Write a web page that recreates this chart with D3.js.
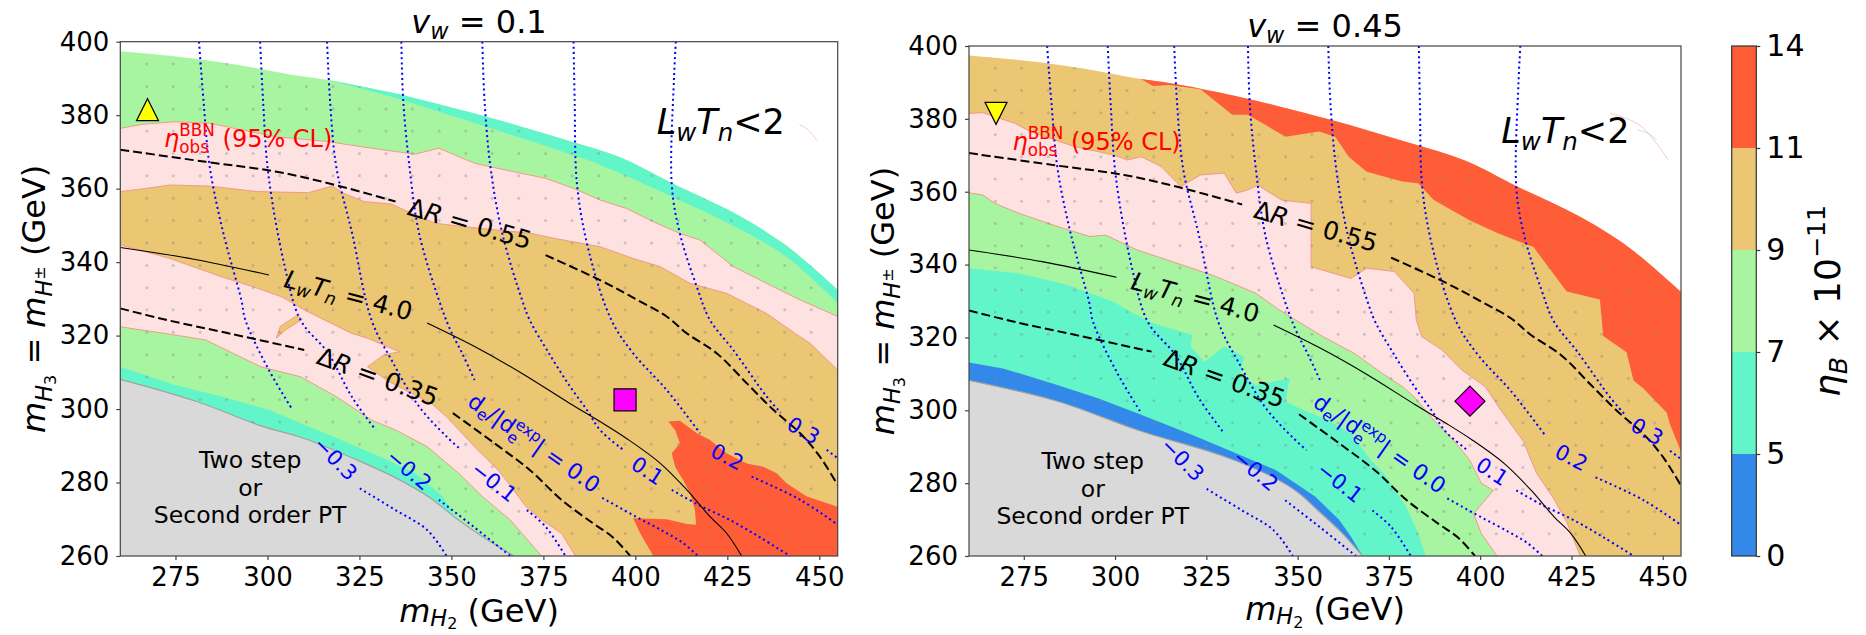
<!DOCTYPE html>
<html><head><meta charset="utf-8">
<script src="https://cdn.jsdelivr.net/npm/d3@7/dist/d3.min.js"></script>
<style>
html,body{margin:0;padding:0;background:#fff;}
svg{display:block;}
text{font-family:"DejaVu Sans",sans-serif;white-space:pre;}
</style></head>
<body>
<svg id="chart" width="1866" height="635"></svg>
<script>
// ================= DATA =================
const xDomain = [260, 455];
const yDomain = [260, 400];
const xTicks = [275, 300, 325, 350, 375, 400, 425, 450];
const yTicks = [260, 280, 300, 320, 340, 360, 380, 400];
const cbBounds = [0, 5, 7, 9, 11, 14];
const cbColors = ["#3389ea", "#62f5c9", "#a7f5a0", "#ebc673", "#ff5c38"];
const vwValues = ["0.1", "0.45"];

// scan grid points (grey dots)
const gridX = [267.2,274.4,281.7,288.9,296.1,303.3,310.6,317.8,325.0,332.2,339.4,346.7,353.9,361.1,368.3,375.6,382.8,390.0,397.2,404.4,411.7,418.9,426.1,433.3,440.6,447.8];
const gridY = [266.1,272.2,278.3,284.3,290.4,296.5,302.6,308.7,314.8,320.9,327.0,333.0,339.1,345.2,351.3,357.4,363.5,369.6,375.7,381.7,387.8,393.9];

// upper edge of the first-order PT region (above: LwTn<2)
const upperEdge = [[260,397.4],[275,396],[290,394],[306,391.1],[316.5,389.6],[333,386.3],[345,383.4],[358,380],[370,376.6],[382,373],[396,368.5],[410,361.5],[427,353.3],[441,344.5],[455,332.5]];
// lower edge (below: two step / second order PT)
const lowerEdgeL = [[260,308.1],[281,302],[298,295.5],[310,292],[324,286.3],[335,281.2],[344,276],[351,270.5],[358.4,265.3],[367,260]];
const lowerEdgeR = [[260,308.2],[284.4,302.4],[306.1,294.6],[329.9,287.3],[342.9,281.8],[350,277.5],[355.9,272.2],[362,266.5],[367.8,260]];

// ---- left panel (v_w = 0.1) band edges ----
const L_aquaStripLow = [[316.5,389.6],[333,385.2],[358,377.3],[382,369.5],[390.4,366.5],[410,357.8],[427,349.7],[441,341.5],[455,328.8]];
const L_pinkTop = [[260,376.4],[266,377.5],[274.6,378.2],[284.3,377.8],[293,376],[302.5,374.1],[316.5,372.8],[325,371.5],[334.8,370.1],[340.2,369.4],[346.6,371],[356.3,366.9],[366,364.8],[375.6,362.8],[383.1,360.1],[390.4,356.9],[397.6,354.6],[404.9,351],[412.1,347.8],[417.6,346],[426.6,338.8],[437.5,333.3],[444.8,329.7],[455,325.2]];
const L_orangeTop = [[260,359.2],[265,359.8],[273.5,361],[284.3,360.7],[297.2,359.2],[311.1,358.9],[317.6,360.7],[320.8,358.7],[326.2,356.5],[333.7,355.8],[339.1,353.3],[345.5,350.6],[352,349.8],[361.7,348.8],[371.3,347.9],[377.8,346.5],[390.4,344.2],[399.4,341],[406.7,338.8],[414.9,334.2],[424.8,331.5],[435.7,326],[440,323],[444,320.2],[447.5,317.9],[451,314.5],[455,310.6]];
const L_orangeBottom = [[260,344.7],[273.5,341],[287.5,336],[296.1,333.3],[304,330.5],[310,327],[316,324],[322.9,320.6],[327.2,319.3],[335.9,315.6],[331.6,314.7],[327.2,311.5],[333,307.5],[339.1,304.3],[344.5,301.6],[348.7,297.9],[352,294.3],[357,289],[362.7,283.4],[366.5,278.5],[370.3,273.4],[375,269.5],[379.9,266.2],[383.7,260]];
const L_orangeIsland = [[302.4,319.3],[303.5,322.5],[308,325.5],[309.5,324.5],[305,321.6]];
const L_red = [[409,296.6],[412.1,296.8],[416.7,293.4],[420.3,291.6],[424.8,288],[430.3,285.2],[434.8,284.3],[438.4,282.5],[441.1,279.8],[446.6,276.2],[455,273.4],[455,260],[404.9,260],[401.3,266.2],[399.4,270.3],[408.5,270],[414,268.7],[416.5,268.5],[416.2,272.5],[414.9,277],[413,280.7],[410.8,284.3],[409.9,288],[412.1,290.7],[410.8,294.3]];
const L_pinkBottom = [[260,322.4],[274.6,320.2],[283.2,318.8],[290,315.5],[298.2,311.5],[309,308.8],[318.7,303.4],[328.3,297],[334.8,294.3],[343.4,289.8],[352,282.5],[358.4,276.2],[366,269.8],[374.5,260]];
const L_aquaTop = [[260,311.5],[274.6,306.6],[287.5,303.4],[300.4,299.8],[310,295.7],[319.7,291.7],[330.5,287.1],[340.2,282.5],[347.7,276.2],[350.5,271.5]];

// ---- right panel (v_w = 0.45) band edges ----
const R_redBottom = [[306,391.1],[307.2,390.9],[310.4,389],[314.8,389.3],[323.4,388.1],[332.1,381.1],[336.4,381.1],[346.7,375.1],[355.9,376.5],[360.3,375.1],[364,369.6],[368.9,365.5],[378.7,362.8],[383,362.3],[387.3,357.7],[397.1,352.2],[405,348.5],[414.6,344.8],[423.7,332.6],[432.8,330.4],[433.7,320.4],[440.1,315.9],[442,308.2],[444.7,306],[451.1,299.3],[452,296.1],[455,288.7]];
const R_pinkTop = [[260,381.5],[263.8,381.7],[272.5,378.8],[276.8,376.5],[288.8,372.4],[299.6,370.1],[303.4,368.7],[307.2,369.6],[312.6,366.9],[318,361.4],[323.4,364.6],[329.9,365.1],[333.2,359.6],[336.4,360.5],[339.1,361.8],[345.6,357.7],[353.7,356.8],[353.7,339.4],[364.6,336.2],[368.9,339],[376.5,338.1],[381.9,332.1],[382.5,324.8],[384,320.2],[389.5,316.6],[394.9,311.1],[401.4,306.5],[405.4,300.4],[411.8,291.5],[415.5,282.6],[420,276],[423.7,269.3],[427.4,260]];
const R_greenTop = [[260,359.7],[263.8,359.1],[267.1,356.8],[273.6,354.1],[284.4,350.4],[293.1,347.7],[297.4,348.1],[306.1,344],[316.9,340.4],[327.7,336.7],[338.6,332.1],[345.1,327.5],[349.4,324.8],[357,320.2],[365.6,315.6],[373.2,310.1],[378.7,306.5],[381.9,303.7],[387.3,297.3],[392.7,291.8],[397.1,286.4],[400.3,280],[403.6,278],[398.2,271.6],[400.3,266.2],[404.6,260]];
const R_aquaTop = [[260,339],[273.6,337.6],[286.6,334.5],[299.6,329.8],[306.1,326],[310.4,323.9],[321.2,320.7],[320.7,317.5],[324.5,313.3],[329.9,317.5],[335.3,314.7],[334.3,309.7],[338.6,306.9],[347.8,308.8],[346.7,302.4],[351.6,300.1],[358.1,297.3],[364.6,293.6],[370,286.4],[374.3,281.8],[379.7,273.6],[383,266.2],[385.1,260]];
const R_blueTop = [[260,313.1],[269.3,311.5],[284.4,306.9],[295.3,303.3],[306.1,299.2],[321.2,293.2],[331,289.1],[344,283.6],[354.8,276.3],[361.3,270],[364.5,265.5],[367.8,260]];

// ---- contour lines (same in both panels), split where the inline label sits ----
const deltaR055 = [[[260,370.6],[283.2,367.3],[302.5,364.6],[317.6,361.2],[334.8,356.5]],
                   [[375.6,341.9],[390.4,335.1],[400,330],[408.5,325.2],[414,320.6],[422.1,315.2],[430.3,307],[437.5,299.8],[444.8,293.4],[450.2,287],[455,279.3]]];
const deltaR035 = [[[260,327.4],[272.4,324.3],[290,320.5],[310,316.1]],
                   [[350.4,298.9],[361.7,290.7],[371.3,283.4],[379.9,275.3],[388.5,268.9],[394,265],[398.6,260]]];
const lwtn4 = [[[260,344],[280,340.8],[300.4,336.5]],
               [[343.4,323.4],[356.3,317],[369.2,309.7],[382.1,301.6],[390.4,296.6],[397.6,292],[406.7,285.3],[414,278],[420.3,270.7],[424.8,266.2],[428.9,260]]];
const deValues = ["−0.3","−0.2","−0.1","0.0","0.1","0.2","0.3"];
const deLines = [
  [[[281.4,400],[282.6,384.1],[284.3,366],[288,347.9],[292.9,329.7],[294,324.2],[300.4,310.6],[306.8,299.8]], [[325.1,278.4],[334.8,272.5],[343.4,267.1],[348.7,260]]],
  [[[298,400],[298.8,384.1],[300.2,364.2],[304.7,338.8],[309,324.2],[316.5,315.2],[322.9,303.4],[329.4,294.3]], [[346.6,275.3],[356,268],[366,260]]],
  [[[316.2,400],[317,384.1],[318.7,366],[323,347.9],[328.3,324.2],[333.7,313.4],[341.2,300.7],[348.7,292.5],[352.5,289]], [[370.5,272.5],[375.6,268],[381,260]]],
  [[[336.4,400],[336.9,384.1],[338.6,366],[341.2,347.9],[346.6,329.7],[349.5,322],[353,315],[356.3,307.9]], [[391,275.8],[400,270.8],[408,266.5],[413,263.5],[417,260]]],
  [[[358.4,400],[359,384.1],[360.6,366],[363.8,347.9],[369.2,329.7],[371.3,324.2],[376,316],[382,306.5],[387,299.5],[390.4,294.3],[396.7,288.9]], [[409.9,278],[417,274],[425.7,269.8],[434,265],[442,260]]],
  [[[383.2,400],[383.5,384.1],[384.2,360.5],[387.5,342.4],[393.5,324.2],[399.4,315.2],[408.5,305.2],[417.6,293.4]], [[431.6,281.6],[444.8,275.3],[455,268.5]]],
  [[[411,400],[410.5,390],[409.9,361],[412.1,347.8],[416.7,333.3],[420.3,324.2],[426.6,316.1],[435.7,303.4],[439.5,299]], [[452,288.9],[455,286.6]]]
];
// benchmark points
const pointA = [267.4, 381.5];
const pointB = [397.2, 302.5];

// ================= DRAWING =================
const svg = d3.select("#chart");
const C = {pink:"#fde2e1", salmon:"#f2998a", grey:"#d9d9d9", greyEdge:"#a2a2a2", frame:"#444", blue:"#0000ff"};

function richText(parent, F, parts, anchor, color) {
  const t = parent.append("text").attr("font-size", F).attr("text-anchor", anchor || "start").attr("fill", color || "#000");
  let cur = 0, pend = 0;
  function add(p, extraDx) {
    const o = (p.sh || 0) * F;
    const s = t.append("tspan").text(p.t).attr("font-size", F * (p.sc || 1)).attr("dy", cur - o);
    if (p.it) s.attr("font-style", "italic");
    if (extraDx) s.attr("dx", extraDx);
    cur = o;
    return s;
  }
  parts.forEach(p => {
    if (p.stack) {
      const s1 = add(p.stack[0], pend); pend = 0;
      const w1 = s1.node().getComputedTextLength();
      const s2 = add(p.stack[1], -w1);
      const w2 = s2.node().getComputedTextLength();
      if (w1 > w2) pend = w1 - w2;
    } else { add(p, pend); pend = 0; }
  });
  return t;
}

const LWTN = [{t:"L",it:1},{t:"w",it:1,sh:-0.2,sc:0.7},{t:"T",it:1},{t:"n",it:1,sh:-0.2,sc:0.7}];
const labelSpecs = [
  {parts:[{t:"Δ"},{t:"R",it:1},{t:" = 0.55"}], x:355, y:350.5, a:16, F:25, c:"#000"},
  {parts:LWTN.concat([{t:" = 4.0"}]), x:322, y:331, a:15, F:25, c:"#000"},
  {parts:[{t:"Δ"},{t:"R",it:1},{t:" = 0.35"}], x:330, y:308.8, a:20, F:25, c:"#000"},
  {parts:[{t:deValues[0]}], x:318.5, y:286.5, a:45, F:21, c:C.blue},
  {parts:[{t:deValues[1]}], x:338.5, y:283.5, a:40, F:21, c:C.blue},
  {parts:[{t:deValues[2]}], x:361.6, y:280.2, a:38, F:21, c:C.blue},
  {parts:[{t:"d"},{t:"e",sh:-0.2,sc:0.7},{t:"/|d"},{stack:[{t:"e",sh:-0.25,sc:0.7},{t:"exp",sh:0.42,sc:0.7}]},{t:"| = "+deValues[3]}], x:372.5, y:290.8, a:35, F:22, c:C.blue},
  {parts:[{t:deValues[4]}], x:403.3, y:283.2, a:33, F:21, c:C.blue},
  {parts:[{t:deValues[5]}], x:425, y:287, a:27, F:21, c:C.blue},
  {parts:[{t:deValues[6]}], x:445.7, y:294.2, a:30, F:21, c:C.blue}
];

function pathFrom(segs, x, y) {
  let d = "";
  segs.forEach((s, i) => {
    let str = d3.line().x(p => x(p[0])).y(p => y(p[1])).curve(s.curve || d3.curveLinear)(s.pts);
    str = str.replace(/Z$/, "");
    d += (i === 0 ? str : "L" + str.slice(1));
  });
  return d + "Z";
}
const smooth = d3.curveCatmullRom.alpha(0.5);
const corner = [xDomain[0], yDomain[0]];
const cornerR = [xDomain[1], yDomain[0]];

function drawPanel(p) {
  const x = d3.scaleLinear().domain(xDomain).range([p.left, p.right]);
  const y = d3.scaleLinear().domain(yDomain).range([p.bottom, p.top]);
  const g = svg.append("g");
  const defs = svg.append("defs");
  defs.append("clipPath").attr("id", "ax" + p.id).append("rect")
    .attr("x", p.left).attr("y", p.top).attr("width", p.right - p.left).attr("height", p.bottom - p.top);
  const dataPath = pathFrom([{pts: upperEdge, curve: smooth}, {pts: [cornerR]}, {pts: p.lower.slice().reverse(), curve: smooth}], x, y);
  defs.append("clipPath").attr("id", "data" + p.id).append("path").attr("d", dataPath);

  const fg = g.append("g").attr("clip-path", `url(#ax${p.id})`);
  fg.append("path").attr("d", dataPath).attr("fill", p.base);
  p.layers.forEach(L => {
    fg.append("path").attr("d", pathFrom(L.segs, x, y)).attr("fill", L.color);
  });
  // grey region (two-step / second order)
  fg.append("path").attr("d", pathFrom([{pts: p.lower, curve: smooth}, {pts: [corner]}], x, y)).attr("fill", C.grey);
  fg.append("path").attr("d", d3.line().x(d => x(d[0])).y(d => y(d[1])).curve(smooth)(p.lower))
    .attr("fill", "none").attr("stroke", C.greyEdge).attr("stroke-width", 1.2);
  // band edges of the observed band
  p.edges.forEach(e => {
    fg.append("path").attr("d", d3.line().x(d => x(d[0])).y(d => y(d[1]))(e))
      .attr("fill", "none").attr("stroke", C.salmon).attr("stroke-width", 1);
  });
  // scan points
  const dg = fg.append("g").attr("clip-path", `url(#data${p.id})`);
  gridX.forEach(gx => gridY.forEach(gy => {
    dg.append("circle").attr("cx", x(gx)).attr("cy", y(gy)).attr("r", 1.5).attr("fill", "#8a8a8a").attr("opacity", 0.4);
  }));
  // contour lines
  const ln = d3.line().x(d => x(d[0])).y(d => y(d[1])).curve(smooth);
  deLines.forEach(segs => segs.forEach(s => {
    fg.append("path").attr("d", ln(s)).attr("fill", "none").attr("stroke", C.blue)
      .attr("stroke-width", 2).attr("stroke-dasharray", "2,3.2");
  }));
  [deltaR055, deltaR035].forEach(segs => segs.forEach(s => {
    fg.append("path").attr("d", ln(s)).attr("fill", "none").attr("stroke", "#000")
      .attr("stroke-width", 2).attr("stroke-dasharray", "9,4");
  }));
  lwtn4.forEach(s => {
    fg.append("path").attr("d", ln(s)).attr("fill", "none").attr("stroke", "#000").attr("stroke-width", 1.1);
  });
  // inline labels
  labelSpecs.forEach(l => {
    const lg = g.append("g").attr("transform", `translate(${x(l.x)},${y(l.y)}) rotate(${l.a})`);
    richText(lg, l.F, l.parts, "middle", l.c).attr("y", l.F * 0.35);
  });
  // eta obs label
  const eg = g.append("g").attr("transform", `translate(${x(271.9)},${y(371.4)})`);
  richText(eg, 24, [{t:"η",it:1},{stack:[{t:"obs",sh:-0.25,sc:0.7},{t:"BBN",sh:0.45,sc:0.7}]},{t:" (95% CL)"}], "start", "#ff0000");
  // LwTn<2
  const lg2 = g.append("g").attr("transform", `translate(${x(405.8)},${y(p.lwY)})`);
  richText(lg2, 35, LWTN.concat([{t:"<2"}]), "start", "#000");
  // faint artefact squiggles
  p.art.forEach(a => {
    fg.append("path").attr("d", ln(a.pts)).attr("fill", "none").attr("stroke", a.c).attr("stroke-width", 1).attr("opacity", 0.6);
  });
  // two step text
  ["Two step", "or", "Second order PT"].forEach((s, i) => {
    g.append("text").attr("x", x(p.tsX)).attr("y", y([283.9, 276.3, 268.9][i])).attr("text-anchor", "middle")
      .attr("font-size", 23.5).text(s);
  });
  // markers
  const sA = 22;
  const triUp = `M0,${-sA/2}L${sA/2},${sA/2}L${-sA/2},${sA/2}Z`;
  const triDn = `M0,${sA/2}L${sA/2},${-sA/2}L${-sA/2},${-sA/2}Z`;
  g.append("path").attr("d", p.id === "L" ? triUp : triDn)
    .attr("transform", `translate(${x(pointA[0])},${y(pointA[1])})`)
    .attr("fill", "#ffff00").attr("stroke", "#000").attr("stroke-width", 1.2);
  const mB = p.id === "L" ? "M-11,-11H11V11H-11Z" : "M0,-15L15,0L0,15L-15,0Z";
  g.append("path").attr("d", mB).attr("transform", `translate(${x(pointB[0])},${y(pointB[1])})`)
    .attr("fill", "#ff00ff").attr("stroke", "#000").attr("stroke-width", 1.2);

  // frame
  g.append("rect").attr("x", p.left).attr("y", p.top).attr("width", p.right - p.left).attr("height", p.bottom - p.top)
    .attr("fill", "none").attr("stroke", C.frame).attr("stroke-width", 1.2);
  // axes
  const ax = g.append("g").attr("transform", `translate(0,${p.bottom})`)
    .call(d3.axisBottom(x).tickValues(xTicks).tickSize(4).tickSizeOuter(0).tickPadding(7.5));
  const ay = g.append("g").attr("transform", `translate(${p.left},0)`)
    .call(d3.axisLeft(y).tickValues(yTicks).tickSize(4).tickSizeOuter(0).tickPadding(7));
  [ax, ay].forEach(a => {
    a.select(".domain").remove();
    a.attr("font-family", '"DejaVu Sans",sans-serif').attr("font-size", 26);
    a.selectAll("line").attr("stroke", C.frame).attr("stroke-width", 1.2);
    a.selectAll("text").attr("fill", "#000");
  });
  // title
  const cx = (p.left + p.right) / 2;
  const tg = g.append("g").attr("transform", `translate(${cx},${p.top - 9})`);
  richText(tg, 32, [{t:"v",it:1},{t:"w",it:1,sh:-0.2,sc:0.7},{t:" = " + p.vw}], "middle", "#000");
  // x label
  const xg = g.append("g").attr("transform", `translate(${cx},${p.xlabY})`);
  richText(xg, 32, [{t:"m",it:1},{t:"H",it:1,sh:-0.13,sc:0.7},{t:"2",sh:-0.24,sc:0.5},{t:" (GeV)"}], "middle", "#000");
  // y label
  const yg = g.append("g").attr("transform", `translate(${p.left - 75},${(p.top + p.bottom) / 2}) rotate(-90)`);
  richText(yg, 32, [{t:"m",it:1},{t:"H",it:1,sh:-0.2,sc:0.7},{t:"3",sh:-0.33,sc:0.5},{t:" = "},{t:"m",it:1},{t:"H",it:1,sh:-0.2,sc:0.7},{t:"±",sh:0.02,sc:0.5},{t:" (GeV)"}], "middle", "#000");
}

const panels = [
  {id:"L", left:120.3, right:837.7, top:41.7, bottom:556, vw:vwValues[0], lower:lowerEdgeL, base:cbColors[2],
   lwY:375, tsX:295.3, xlabY:621.5,
   layers:[
     {color:cbColors[1], segs:[{pts: upperEdge.filter(d => d[0] >= L_aquaStripLow[0][0]), curve: smooth}, {pts: L_aquaStripLow.slice().reverse(), curve: smooth}]},
     {color:C.pink, segs:[{pts: L_pinkTop}, {pts: [cornerR, corner]}]},
     {color:cbColors[3], segs:[{pts: L_orangeTop}, {pts: [cornerR]}, {pts: L_orangeBottom.slice().reverse()}]},
     {color:cbColors[3], segs:[{pts: L_orangeIsland}]},
     {color:cbColors[4], segs:[{pts: L_red}]},
     {color:cbColors[2], segs:[{pts: L_pinkBottom}, {pts: [corner]}]},
     {color:cbColors[1], segs:[{pts: L_aquaTop}, {pts: [[L_aquaTop[L_aquaTop.length-1][0], yDomain[0]], corner]}]}
   ],
   edges:[L_pinkTop, L_orangeTop, L_orangeBottom, L_pinkBottom, L_orangeIsland.concat([L_orangeIsland[0]])],
   art:[{c:"#f4a8a0", pts:[[444.6,377.5],[447,376],[449.3,373.2]]}]
  },
  {id:"R", left:969, right:1681, top:46, bottom:556, vw:vwValues[1], lower:lowerEdgeR, base:cbColors[3],
   lwY:373.5, tsX:293.9, xlabY:620,
   layers:[
     {color:cbColors[4], segs:[{pts: upperEdge.filter(d => d[0] >= R_redBottom[0][0]), curve: smooth}, {pts: R_redBottom.slice().reverse()}]},
     {color:C.pink, segs:[{pts: R_pinkTop}, {pts: [corner]}]},
     {color:cbColors[2], segs:[{pts: R_greenTop}, {pts: [corner]}]},
     {color:cbColors[1], segs:[{pts: R_aquaTop}, {pts: [corner]}]},
     {color:cbColors[0], segs:[{pts: R_blueTop}, {pts: [corner]}]}
   ],
   edges:[R_pinkTop, R_greenTop],
   art:[{c:"#f4a8a0", pts:[[435.6,381.5],[443.8,378.2],[451.5,368.7]]},{c:"#9ec4f0", pts:[[443,377],[446,376],[448.3,374.3]]}]
  }
];
panels.forEach(drawPanel);

// ================= COLORBAR =================
const cb = {left:1731.7, right:1756.3, top:46, bottom:556};
const cbY = d3.scaleLinear().domain([0, cbBounds.length - 1]).range([cb.bottom, cb.top]);
const cg = svg.append("g");
cbColors.forEach((c, i) => {
  cg.append("rect").attr("x", cb.left).attr("y", cbY(i + 1)).attr("width", cb.right - cb.left)
    .attr("height", cbY(i) - cbY(i + 1)).attr("fill", c);
});
cg.append("rect").attr("x", cb.left).attr("y", cb.top).attr("width", cb.right - cb.left).attr("height", cb.bottom - cb.top)
  .attr("fill", "none").attr("stroke", "#333").attr("stroke-width", 1.2);
const cax = cg.append("g").attr("transform", `translate(${cb.right},0)`)
  .call(d3.axisRight(cbY).tickValues(d3.range(cbBounds.length)).tickFormat(i => cbBounds[i]).tickSize(4).tickSizeOuter(0).tickPadding(6));
cax.select(".domain").remove();
cax.attr("font-family", '"DejaVu Sans",sans-serif').attr("font-size", 30);
cax.selectAll("line").attr("stroke", "#333").attr("stroke-width", 1.2);
cax.selectAll("text").attr("fill", "#000");
const clg = cg.append("g").attr("transform", `translate(1840,${(cb.top + cb.bottom) / 2}) rotate(-90)`);
richText(clg, 36, [{t:"η",it:1},{t:"B",it:1,sh:-0.2,sc:0.7},{t:" × 10"},{t:"−11",sh:0.42,sc:0.7}], "middle", "#000");
</script>
</body></html>
